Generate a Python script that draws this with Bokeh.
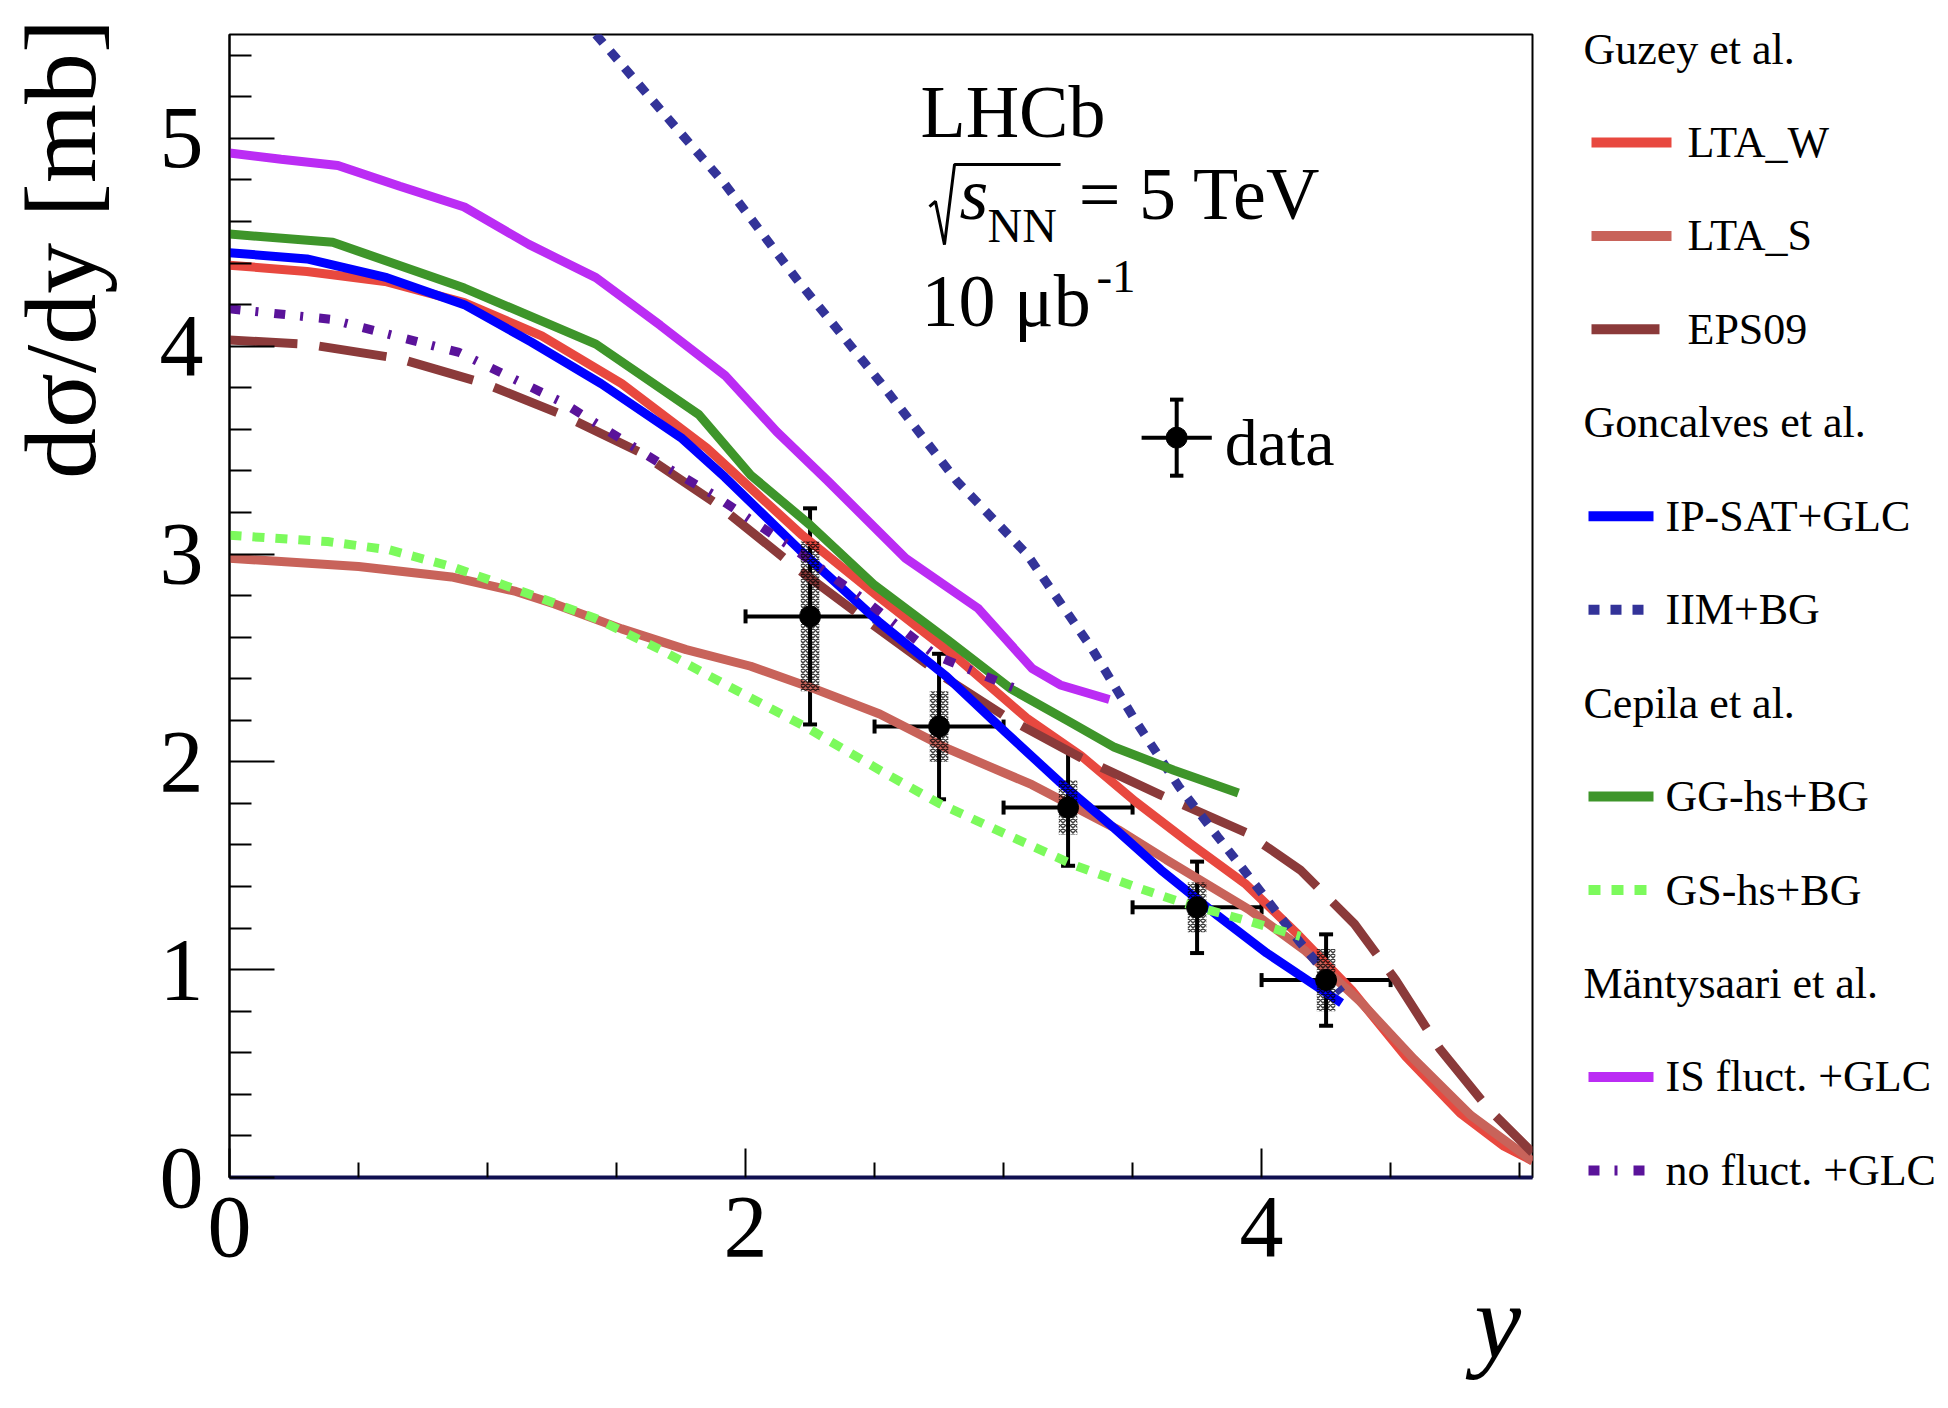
from bokeh.core.properties import value
from bokeh.embed import file_html
from bokeh.layouts import row
from bokeh.models import ColumnDataSource, FixedTicker, Label, Range1d, TeeHead, Whisker
from bokeh.plotting import figure
from bokeh.resources import INLINE

FONT = "Liberation Serif"
NBSP = "\u00a0"

# ---- theory curves ----
lta_w_x = [0, 0.30, 0.61, 0.91, 1.21, 1.52, 1.85, 2.22, 2.52, 2.83, 3.09, 3.30, 3.51, 3.72, 3.94, 4.14, 4.35, 4.56, 4.77, 4.94, 5.05]
lta_w_y = [4.39, 4.36, 4.31, 4.21, 4.05, 3.82, 3.51, 3.09, 2.79, 2.49, 2.21, 2.03, 1.81, 1.61, 1.41, 1.17, 0.90, 0.58, 0.31, 0.15, 0.08]

lta_s_x = [0, 0.50, 0.86, 1.11, 1.26, 1.52, 1.77, 2.02, 2.27, 2.52, 2.79, 3.11, 3.45, 3.63, 3.95, 4.17, 4.38, 4.59, 4.81, 5.05]
lta_s_y = [2.98, 2.94, 2.89, 2.82, 2.76, 2.64, 2.54, 2.46, 2.35, 2.23, 2.06, 1.89, 1.67, 1.53, 1.29, 1.09, 0.85, 0.57, 0.30, 0.08]

eps09_x = [0, 0.30, 0.66, 0.99, 1.29, 1.59, 1.89, 2.18, 2.46, 2.78, 3.03, 3.30, 3.61, 3.94, 4.15, 4.36, 4.52, 4.69, 4.88, 5.05]
eps09_y = [4.03, 4.01, 3.94, 3.82, 3.67, 3.49, 3.24, 2.95, 2.69, 2.40, 2.20, 2.02, 1.84, 1.66, 1.48, 1.22, 0.95, 0.62, 0.33, 0.12]

ipsat_x = [0, 0.30, 0.61, 0.91, 1.17, 1.44, 1.75, 1.92, 2.21, 2.52, 2.78, 3.01, 3.22, 3.43, 3.61, 3.83, 4.02, 4.14, 4.31]
ipsat_y = [4.45, 4.42, 4.33, 4.20, 4.02, 3.82, 3.56, 3.37, 3.02, 2.67, 2.41, 2.14, 1.90, 1.68, 1.48, 1.26, 1.08, 0.98, 0.84]

iim_x = [1.42, 1.69, 1.92, 2.20, 2.52, 2.82, 3.09, 3.34, 3.51, 3.68, 3.83, 4.00, 4.15, 4.31]
iim_y = [5.50, 5.11, 4.78, 4.32, 3.83, 3.35, 3.00, 2.55, 2.20, 1.88, 1.64, 1.37, 1.13, 0.89]

gg_x = [0, 0.40, 0.91, 1.42, 1.82, 2.02, 2.25, 2.50, 2.78, 3.03, 3.26, 3.43, 3.66, 3.91]
gg_y = [4.54, 4.50, 4.28, 4.01, 3.67, 3.38, 3.14, 2.85, 2.59, 2.35, 2.19, 2.07, 1.96, 1.85]

gs_x = [0, 0.38, 0.62, 0.86, 1.18, 1.42, 1.67, 1.91, 2.23, 2.52, 2.75, 3.03, 3.28, 3.53, 3.70, 3.96, 4.15]
gs_y = [3.09, 3.06, 3.02, 2.94, 2.80, 2.69, 2.54, 2.38, 2.17, 1.96, 1.80, 1.64, 1.50, 1.39, 1.32, 1.23, 1.16]

is_x = [0, 0.20, 0.42, 0.66, 0.91, 1.16, 1.42, 1.67, 1.92, 2.12, 2.32, 2.62, 2.90, 3.11, 3.22, 3.41]
is_y = [4.93, 4.90, 4.87, 4.77, 4.67, 4.49, 4.33, 4.10, 3.86, 3.59, 3.35, 2.98, 2.74, 2.45, 2.37, 2.30]

nofl_x = [0, 0.39, 0.89, 1.29, 1.69, 1.87, 2.17, 2.46, 2.74, 3.07]
nofl_y = [4.18, 4.13, 3.97, 3.73, 3.42, 3.29, 3.04, 2.78, 2.51, 2.34]

# ---- LHCb data ----
data_x = [2.25, 2.75, 3.25, 3.75, 4.25]
data_y = [2.70, 2.17, 1.78, 1.30, 0.95]
data_xerr = [0.25, 0.25, 0.25, 0.25, 0.25]
data_err = [0.52, 0.35, 0.28, 0.22, 0.22]
data_syst = [0.36, 0.17, 0.13, 0.12, 0.15]

x_major = [0, 2, 4]
x_minor = [0.5, 1, 1.5, 2.5, 3, 3.5, 4.5, 5]
y_major = [0, 1, 2, 3, 4, 5]
y_minor = [0.2, 0.4, 0.6, 0.8, 1.2, 1.4, 1.6, 1.8, 2.2, 2.4, 2.6, 2.8,
           3.2, 3.4, 3.6, 3.8, 4.2, 4.4, 4.6, 4.8, 5.2, 5.4]

# name, x, y, colour, dash
curves = [
    ("LTA_W", lta_w_x, lta_w_y, "#e8483f", "solid"),
    ("LTA_S", lta_s_x, lta_s_y, "#c8635a", "solid"),
    ("EPS09", eps09_x, eps09_y, "#8b3a3a", "68 22"),
    ("IP-SAT+GLC", ipsat_x, ipsat_y, "#0000ff", "solid"),
    ("IIM+BG", iim_x, iim_y, "#333399", "11 11"),
    ("GG-hs+BG", gg_x, gg_y, "#3e952a", "solid"),
    ("GS-hs+BG", gs_x, gs_y, "#7cfa5c", "12 11"),
    ("IS fluct. +GLC", is_x, is_y, "#bb2cf4", "solid"),
    ("no fluct. +GLC", nofl_x, nofl_y, "#5a139a", "11 15 3 16"),
]
groups = [
    ("Guzey et al.", ["LTA_W", "LTA_S", "EPS09"]),
    ("Goncalves et al.", ["IP-SAT+GLC", "IIM+BG"]),
    ("Cepila et al.", ["GG-hs+BG", "GS-hs+BG"]),
    ("Mäntysaari et al.", ["IS fluct. +GLC", "no fluct. +GLC"]),
]

p = figure(width=1545, height=1400, x_range=Range1d(0, 5.05), y_range=Range1d(0, 5.5),
           output_backend="svg", toolbar_location=None,
           min_border_left=228, min_border_right=13, min_border_top=34, min_border_bottom=223)
p.grid.visible = False
p.outline_line_color = "black"
p.outline_line_width = 2
p.frame_align = False

p.xaxis.ticker = FixedTicker(ticks=x_major, minor_ticks=x_minor)
p.yaxis.ticker = FixedTicker(ticks=y_major, minor_ticks=y_minor)
p.axis.major_tick_out = 0
p.axis.minor_tick_out = 0
p.xaxis.major_tick_in = 29
p.xaxis.minor_tick_in = 15
p.yaxis.major_tick_in = 45
p.yaxis.minor_tick_in = 22
p.axis.major_tick_line_width = 2
p.axis.minor_tick_line_width = 2
p.axis.axis_line_width = 2
p.xaxis.axis_line_color = "#101050"
p.xaxis.axis_line_width = 4
p.axis.major_label_text_font = FONT
p.axis.major_label_text_font_size = "88px"
p.axis.major_label_text_color = "black"
p.xaxis.major_label_standoff = 20
p.yaxis.major_label_standoff = 26

# axis titles sit at the far end of each axis (ROOT style); the leading
# no-break spaces push the visible text to that end of the centred label
p.xaxis.axis_label = NBSP * 47 + "y"
p.xaxis.axis_label_text_font = FONT
p.xaxis.axis_label_text_font_style = "italic"
p.xaxis.axis_label_text_font_size = "105px"
p.xaxis.axis_label_standoff = 4
p.yaxis.axis_label = NBSP * 28 + "dσ/dy [mb]"
p.yaxis.axis_label_text_font = FONT
p.yaxis.axis_label_text_font_style = "normal"
p.yaxis.axis_label_text_font_size = "102px"
p.yaxis.axis_label_standoff = 40
p.axis.axis_label_text_color = "black"

for name, xs, ys, col, dash in curves:
    p.line(xs, ys, line_color=col, line_width=9, line_dash=dash)

# data points: syst boxes, error bars, markers
src = ColumnDataSource(data=dict(
    x=data_x, y=data_y,
    x_lo=[a - b for a, b in zip(data_x, data_xerr)], x_hi=[a + b for a, b in zip(data_x, data_xerr)],
    y_lo=[a - b for a, b in zip(data_y, data_err)], y_hi=[a + b for a, b in zip(data_y, data_err)],
    h=[2 * s for s in data_syst],
))
p.rect("x", "y", width=0.072, height="h", source=src, fill_color=None, line_color=None,
       hatch_pattern="diagonal_cross", hatch_color="black", hatch_alpha=0.75, hatch_scale=5, hatch_weight=1.5)
p.add_layout(Whisker(base="x", lower="y_lo", upper="y_hi", source=src, dimension="height",
                     line_width=4, line_color="black",
                     upper_head=TeeHead(size=14, line_width=4), lower_head=TeeHead(size=14, line_width=4)))
p.add_layout(Whisker(base="y", lower="x_lo", upper="x_hi", source=src, dimension="width",
                     line_width=4, line_color="black",
                     upper_head=TeeHead(size=14, line_width=4), lower_head=TeeHead(size=14, line_width=4)))
p.scatter("x", "y", source=src, size=21, color="black")

# text block (anchored at the middle of each line of text)
def lab(x, y, t, size, style="normal"):
    p.add_layout(Label(x=x, y=y, text=t, text_font=FONT, text_font_size=size,
                       text_font_style=style, text_color="black", text_baseline="middle"))

lab(2.678, 5.126, "LHCb", "74px")
lab(2.829, 4.731, "s", "74px", "italic")
lab(2.938, 4.582, "NN", "48px")
lab(3.291, 4.731, "= 5 TeV", "74px")
lab(2.682, 4.216, "10 μb", "74px")
lab(3.360, 4.335, "-1", "47px")
# radical sign with its bar over s_NN
p.line([2.713, 2.736, 2.771, 2.810, 3.221], [4.672, 4.697, 4.489, 4.875, 4.875],
       line_color="black", line_width=3)

# in-frame data legend key
kx, ky, kdx, kdy, kc = 3.671, 3.560, 0.136, 0.183, 0.026
p.scatter([kx], [ky], size=21, color="black")
p.segment(x0=[kx - kdx, kx], y0=[ky, ky - kdy], x1=[kx + kdx, kx], y1=[ky, ky + kdy],
          line_color="black", line_width=4)
p.segment(x0=[kx - kc, kx - kc], y0=[ky - kdy, ky + kdy], x1=[kx + kc, kx + kc], y1=[ky - kdy, ky + kdy],
          line_color="black", line_width=4)
lab(3.857, 3.537, "data", "66px")

# right-hand legend panel, drawn in page pixel coordinates
q = figure(width=400, height=1400, x_range=Range1d(1545, 1945), y_range=Range1d(1400, 0),
           x_axis_type=None, y_axis_type=None, min_border=0, outline_line_color=None,
           output_backend="svg", toolbar_location=None)
q.grid.visible = False
q.frame_align = False
style = {c[0]: (c[3], c[4]) for c in curves}
row_i = 0
tx, ty = [], []
for gi, (head, names) in enumerate(groups):
    tx.append(1583)
    ty.append(48.5 + 93.45 * row_i)
    row_i += 1
    for n in names:
        yc = 48.5 + 93.45 * row_i
        if gi == 0:
            x0, x1, xt = 1591, 1671, 1687
        else:
            x0, x1, xt = 1588, 1653, 1665
        col, dash = style[n]
        q.line([x0, x1], [yc, yc], line_color=col, line_width=10, line_dash=dash)
        tx.append(xt)
        ty.append(yc)
        row_i += 1
labels = []
for head, names in groups:
    labels.append(head)
    labels.extend(names)
q.text(tx, ty, text=labels, text_font=value(FONT), text_font_size="44px",
       text_color="black", text_baseline="middle")

layout = row(p, q)
open("out.html", "w").write(file_html(layout, INLINE))
